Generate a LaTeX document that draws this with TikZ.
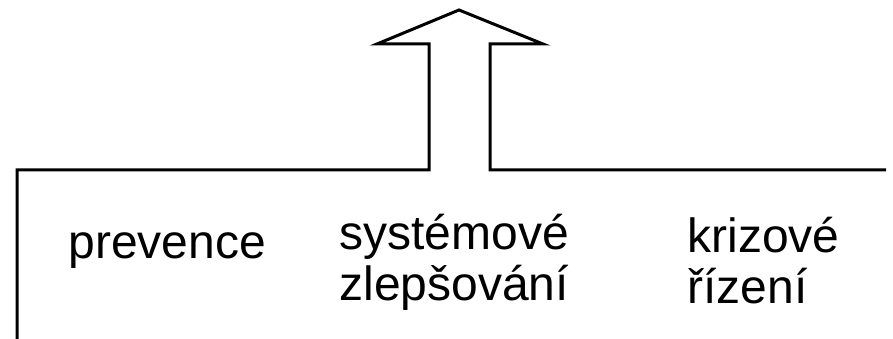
\documentclass[tikz,border=0pt]{standalone}
\usepackage{fontspec}
\setmainfont{Liberation Sans}
\tikzset{every picture/.style={line width=3pt}}
\tikzset{nhan/.style={anchor=base west,inner sep=0pt,align=left,font=\fontsize{48}{51}\selectfont}}

\begin{document}
\begin{tikzpicture}[x=1pt,y=-1pt]
	\useasboundingbox (0,0) rectangle (893,339);
	%Khung
	\coordinate (goc) at (17,339);
	\coordinate (tren) at (17,170);
	\coordinate (phai) at (886,170);
	%Mui ten
	\coordinate (trai1) at (429,170);
	\coordinate (trai2) at (429,44);
	\coordinate (dau1) at (377,44);
	\coordinate (dinh) at (459,10);
	\coordinate (dau2) at (543,44);
	\coordinate (phai2) at (490,44);
	\coordinate (phai1) at (490,170);
	\draw [line join=miter] (goc)--(tren)--(trai1)--(trai2)--(dau1)--(dinh)--(dau2)--(phai2)--(phai1)--(phai);
	%Chu
	\node[nhan] (prev) at (67,258) {prevence};
	\node[nhan] (sys) at (338,300) {systémové\\zlepšování};
	\node[nhan] (kriz) at (686,303) {krizové\\řízení};
\end{tikzpicture}
\end{document}
